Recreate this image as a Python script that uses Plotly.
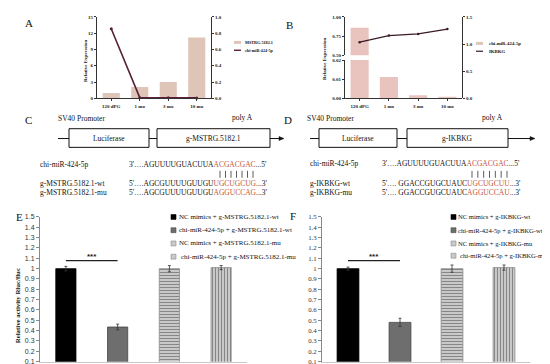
import plotly.graph_objects as go

W, H = 550, 364
def px(x):
    return x / W
def py(y):
    return 1 - y / H

# ---------------- data ----------------
time_points = ["120 dPG", "1 mo", "3 mo", "10 mo"]
mstrg_expr = [1.0, 2.1, 3.0, 11.2]          # panel A bars (left axis)
mir_expr_a = [0.855, 0.008, 0.006, 0.005]   # panel A line (right axis)
mir_expr_b = [0.858, 0.0112, 0.0016, 0.0008]  # panel B bars (broken left axis)
ikbkg_expr = [1.034, 1.155, 1.186, 1.276]   # panel B line (right axis)

groups_e = ["NC mimics + g-MSTRG.5182.1-wt", "chi-miR-424-5p + g-MSTRG.5182.1-wt",
            "NC mimics + g-MSTRG.5182.1-mu", "chi-miR-424-5p + g-MSTRG.5182.1-mu"]
activity_e = [1.0, 0.435, 1.0, 1.01]
err_e = [0.022, 0.028, 0.03, 0.02]

groups_f = ["NC mimics + g-IKBKG-wt", "chi-miR-424-5p + g-IKBKG-wt",
            "NC mimics + g-IKBKG-mu", "chi-miR-424-5p + g-IKBKG-mu"]
activity_f = [1.0, 0.48, 1.0, 1.01]
err_f = [0.015, 0.04, 0.035, 0.025]

yticks_e = [0.1, 0.2, 0.3, 0.4, 0.5, 0.6, 0.7, 0.8, 0.9, 1, 1.1, 1.2, 1.3, 1.4, 1.5]
yticktext_e = ["0.1", "0.2", "0.3", "0.4", "0.5", "0.6", "0.7", "0.8", "0.9", "1",
               "1.1", "1.2", "1.3", "1.4", "1.5"]

# ---------------- styles ----------------
SERIF = "Liberation Serif"
SANS = "Liberation Sans"
TAN_A = "#dec5b8"
TAN_B = "#e9c3bd"
LINE_A = "#5a1f3a"
LINE_B = "#3a1a28"
BAR_COLORS = ["#000000", "#6e6e6e", "#c9c9c9", "#c9c9c9"]
BAR_LINES = ["#000000", "#454545", "#8a8a8a", "#8a8a8a"]
PATTERNS = ["", "", "-", "|"]
RED = "#c4553a"

fig = go.Figure()

# ---- Panel A ----
fig.add_trace(go.Bar(x=time_points, y=mstrg_expr, marker=dict(color=TAN_A, line=dict(width=0)),
                     width=0.6, xaxis="x", yaxis="y", showlegend=False))
fig.add_trace(go.Scatter(x=time_points, y=mir_expr_a, mode="lines+markers",
                         line=dict(color=LINE_A, width=1.6), marker=dict(size=3, color=LINE_A),
                         xaxis="x", yaxis="y2", showlegend=False, cliponaxis=False))

# ---- Panel B (broken axis) ----
fig.add_trace(go.Bar(x=time_points, y=mir_expr_b, marker=dict(color=TAN_B, line=dict(width=0)),
                     width=0.62, xaxis="x2", yaxis="y3", showlegend=False))
fig.add_trace(go.Bar(x=time_points, y=mir_expr_b, marker=dict(color=TAN_B, line=dict(width=0)),
                     width=0.62, xaxis="x2", yaxis="y4", showlegend=False))
fig.add_trace(go.Scatter(x=time_points, y=ikbkg_expr, mode="lines+markers",
                         line=dict(color=LINE_B, width=1.2), marker=dict(size=2.5, color=LINE_B),
                         xaxis="x2", yaxis="y5", showlegend=False))

# ---- Panel E ----
fig.add_trace(go.Bar(x=groups_e, y=activity_e, width=0.39,
                     marker=dict(color=BAR_COLORS, line=dict(color=BAR_LINES, width=0.8),
                                 pattern=dict(shape=PATTERNS, fillmode="overlay", fgcolor="#8f8f8f",
                                              size=3, solidity=0.35)),
                     error_y=dict(type="data", array=err_e, color="#333333", thickness=0.8, width=1.5),
                     xaxis="x3", yaxis="y6", showlegend=False))
# ---- Panel F ----
fig.add_trace(go.Bar(x=groups_f, y=activity_f, width=0.42,
                     marker=dict(color=BAR_COLORS, line=dict(color=BAR_LINES, width=0.8),
                                 pattern=dict(shape=PATTERNS, fillmode="overlay", fgcolor="#8f8f8f",
                                              size=3, solidity=0.35)),
                     error_y=dict(type="data", array=err_f, color="#333333", thickness=0.8, width=1.5),
                     xaxis="x4", yaxis="y7", showlegend=False))

tickA = dict(family=SERIF, size=5, color="#222", weight="bold")
axis_common = dict(showgrid=False, zeroline=False, showline=True, linecolor="#333", linewidth=1,
                   ticks="outside", ticklen=2, tickwidth=0.8, tickcolor="#333", tickfont=tickA)

fig.update_layout(
    width=W, height=H, margin=dict(l=0, r=0, t=0, b=0),
    paper_bgcolor="white", plot_bgcolor="rgba(0,0,0,0)", bargap=0.4,
    xaxis=dict(domain=[px(89), px(203)], anchor="y", **axis_common, ticklabelstandoff=1),
    yaxis=dict(domain=[py(88), py(5)], anchor="x", range=[0, 15], tickvals=[0, 3, 6, 9, 12, 15], **axis_common),
    yaxis2=dict(overlaying="y", side="right", anchor="x", range=[0, 1.0],
                tickvals=[0, 0.2, 0.4, 0.6, 0.8, 1.0], tickformat=".1f", **axis_common),
    xaxis2=dict(domain=[px(337), px(454)], anchor="y3", **axis_common, ticklabelstandoff=1),
    yaxis3=dict(domain=[py(88), py(49)], anchor="x2", range=[0, 0.02],
                tickvals=[0, 0.01, 0.02], tickformat=".2f", **axis_common),
    yaxis4=dict(domain=[py(44), py(5)], anchor="x2", range=[0.5, 1.0],
                tickvals=[0.5, 0.75, 1.0], tickformat=".2f", **axis_common),
    yaxis5=dict(domain=[py(88), py(5)], anchor="x2", side="right", range=[0, 1.5],
                tickvals=[0, 0.5, 1.0, 1.5], tickformat=".1f", **axis_common),
    xaxis3=dict(domain=[px(32), px(239)], anchor="y6", showgrid=False, zeroline=False,
                showline=True, linecolor="#c8c8c8", linewidth=1, showticklabels=False, ticks=""),
    yaxis6=dict(domain=[py(356.5), py(209)], anchor="x3", range=[0.1, 1.5], tickvals=yticks_e,
                ticktext=yticktext_e, showgrid=False, zeroline=False, showline=True,
                linecolor="#888", linewidth=1, ticks="outside", ticklen=3, tickcolor="#888",
                tickfont=dict(family=SANS, size=7, color="#333")),
    xaxis4=dict(domain=[px(314), px(522)], anchor="y7", showgrid=False, zeroline=False,
                showline=True, linecolor="#c8c8c8", linewidth=1, showticklabels=False, ticks=""),
    yaxis7=dict(domain=[py(356.5), py(209)], anchor="x4", range=[0.1, 1.5], tickvals=yticks_e,
                ticktext=yticktext_e, showgrid=False, zeroline=False, showline=True,
                linecolor="#888", linewidth=1, ticks="outside", ticklen=3, tickcolor="#888",
                tickfont=dict(family=SERIF, size=6.8, color="#333")),
)

ann = []
shapes = []

def text(x, y, s, size=7.5, family=SERIF, color="#111", xanchor="left", angle=0, weight="normal"):
    ann.append(dict(xref="paper", yref="paper", x=px(x), y=py(y), text=s, showarrow=False,
                    xanchor=xanchor, yanchor="middle", textangle=angle,
                    font=dict(family=family, size=size, color=color, weight=weight)))

# panel letters
for lt, x, y in [("A", 21, 11), ("B", 281, 13), ("C", 20, 110), ("D", 280, 110), ("E", 11, 209), ("F", 285, 208)]:
    text(x, y, lt, size=11, xanchor="center")

# y titles A/B
text(77, 50, "Relative Expression", size=5, angle=-90, xanchor="center", weight="bold")
text(316, 48, "Relative Expression", size=5, angle=-90, xanchor="center", weight="bold")

# legends A/B
shapes.append(dict(type="rect", xref="paper", yref="paper", x0=px(226), x1=px(233), y0=py(32.5), y1=py(29.5),
                   fillcolor=TAN_A, line=dict(width=0)))
shapes.append(dict(type="line", xref="paper", yref="paper", x0=px(226), x1=px(233), y0=py(39), y1=py(39),
                   line=dict(color=LINE_A, width=1.4)))
text(235, 31, "MSTRG.5182.1", size=4.2, weight="bold")
text(235, 39, "chi-miR-424-5p", size=4.2, weight="bold")
shapes.append(dict(type="rect", xref="paper", yref="paper", x0=px(468), x1=px(475), y0=py(33.5), y1=py(30.5),
                   fillcolor=TAN_A, line=dict(width=0)))
shapes.append(dict(type="line", xref="paper", yref="paper", x0=px(468), x1=px(475), y0=py(40), y1=py(40),
                   line=dict(color=LINE_B, width=1.2)))
text(479, 32, "chi-miR-424-5p", size=4.8, weight="bold")
text(479, 40, "IKBKG", size=4.8, weight="bold")

# ---- construct diagrams C / D ----
def construct(x_line0, x_line1, box1, box2, label2, sv_x, polya_x):
    yl = 129
    shapes.append(dict(type="line", xref="paper", yref="paper", x0=px(x_line0), x1=px(x_line1 - 4),
                       y0=py(yl), y1=py(yl), line=dict(color="#111", width=1)))
    shapes.append(dict(type="path", xref="paper", yref="paper",
                       path=f"M {px(x_line1)} {py(yl)} L {px(x_line1-5)} {py(yl-2)} L {px(x_line1-5)} {py(yl+2)} Z",
                       fillcolor="#111", line=dict(color="#111", width=0.5)))
    for (b0, b1) in (box1, box2):
        shapes.append(dict(type="rect", xref="paper", yref="paper", x0=px(b0), x1=px(b1),
                           y0=py(138), y1=py(119), fillcolor="white", line=dict(color="#111", width=1)))
    text((box1[0] + box1[1]) / 2, 128.5, "Luciferase", size=7.5, xanchor="center")
    text((box2[0] + box2[1]) / 2, 128.5, label2, size=7.5, xanchor="center")
    text(sv_x, 109, "SV40 Promoter", size=7.5)
    text(polya_x, 108, "poly A", size=7.5)

construct(50, 276, (61, 141), (149, 262), "g-MSTRG.5182.1", 48, 222)
construct(302, 527, (311, 389), (399, 500), "g-IKBKG", 297, 472)

def red(s):
    return f"<span style='color:{RED}'>{s}</span>"

def pairing_bars(x0, x1):
    n = 7
    for i in range(n):
        xx = x0 + i * (x1 - x0) / (n - 1)
        shapes.append(dict(type="line", xref="paper", yref="paper", x0=px(xx), x1=px(xx),
                           y0=py(162), y1=py(169), line=dict(color="#333", width=0.8)))

# sequences C
text(30, 155, "chi-miR-424-5p")
text(119, 155, "3'….AGUUUUGUACUUA" + red("ACGACGAC") + "...5'")
pairing_bars(212, 245)
text(30, 175, "g-MSTRG.5182.1-wt")
text(119, 175, "5'….AGCGUUUUGUUGU" + red("UGCUGCUG") + "...3'")
text(30, 184.5, "g-MSTRG.5182.1-mu")
text(119, 184.5, "5'….AGCGUUUUGUUGU" + red("AGGUCCAG") + "...3'")

# sequences D
text(300, 154, "chi-miR-424-5p")
text(372, 154, "3'….AGUUUUGUACUUA" + red("ACGACGAC") + "...5'")
pairing_bars(464, 499)
text(300, 175, "g-IKBKG-wt")
text(372, 175, "5'…. GGACCGUGCUAUC" + red("UGCUGCUU") + "...3'")
text(300, 184.5, "g-IKBKG-mu")
text(372, 184.5, "5'…. GGACCGUGCUAUC" + red("AGGUCCAU") + "...3'")

# y title E
text(9, 300, "Relative activity Rluc/fluc", size=6.8, angle=-90, xanchor="center", weight="bold")

# significance
for xr, yr in (("x3", "y6"), ("x4", "y7")):
    shapes.append(dict(type="line", xref=xr, yref=yr, x0=0, x1=1, y0=1.077, y1=1.077,
                       line=dict(color="#222", width=1.2)))
    ann.append(dict(xref=xr, yref=yr, x=0.5, y=1.115, text="***", showarrow=False,
                    font=dict(family=SANS, size=8, color="#222", weight="bold")))

# legends E / F
def legend_block(x_sym, rows, labels, x_text, extra_indent, size):
    for i, (yy, lab) in enumerate(zip(rows, labels)):
        shapes.append(dict(type="rect", xref="paper", yref="paper", x0=px(x_sym), x1=px(x_sym + 5),
                           y0=py(yy + 2.5), y1=py(yy - 2.5), fillcolor=BAR_COLORS[i],
                           line=dict(color=BAR_LINES[i], width=0.6)))
        text(x_text + (extra_indent if i == 3 else 0), yy, lab, size=size)

legend_block(163, [209, 222.5, 236, 249.5], groups_e, 168.5, 2.5, 7)
legend_block(443, [209, 222.5, 236, 248.5], groups_f, 448, 1.5, 6.6)

fig.update_layout(annotations=ann, shapes=shapes)
fig.write_html("out.html")
